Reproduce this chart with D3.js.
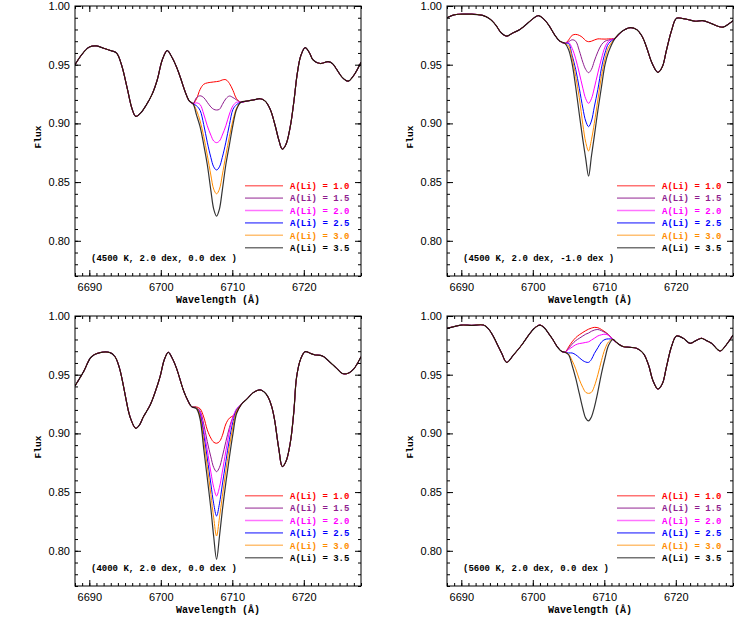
<!DOCTYPE html>
<html>
<head>
<meta charset="utf-8">
<script src="https://cdn.jsdelivr.net/npm/d3@7"></script>
<style>
body { margin: 0; background: #fff; }
</style>
</head>
<body>
<svg id="chart" width="744" height="620"></svg>
<script>
// abundances, colours and labels
var abund = ["1.0", "1.5", "2.0", "2.5", "3.0", "3.5"];
var colors = ["#ff0000", "#8e1c8e", "#ff00ff", "#0000ff", "#ff8c00", "#000000"];
var panelLabels = ["(4500 K, 2.0 dex, 0.0 dex )", "(4500 K, 2.0 dex, -1.0 dex )",
                   "(4000 K, 2.0 dex, 0.0 dex )", "(5600 K, 2.0 dex, 0.0 dex )"];
var xTicks = [6690, 6700, 6710, 6720];
var yTicks = [0.80, 0.85, 0.90, 0.95, 1.00];

// wavelengths where the Li curves split apart
var liWave = [6705.0, 6705.5, 6706.0, 6706.5, 6707.0, 6707.4, 6707.8, 6708.2, 6708.6, 6709.1, 6709.6, 6710.1, 6710.6];

// panel 1 : 4500 K, [Fe/H] 0.0
var p1Left = [[6688.0,0.950],[6689.0,0.959],[6690.0,0.965],[6691.0,0.966],[6692.0,0.964],[6693.0,0.962],[6693.8,0.960],[6694.5,0.950],[6695.3,0.930],[6696.0,0.912],[6696.5,0.906],[6697.2,0.909],[6698.0,0.916],[6698.8,0.925],[6699.5,0.937],[6700.2,0.954],[6700.9,0.962],[6701.5,0.957],[6702.2,0.948],[6702.8,0.938],[6703.4,0.927],[6704.0,0.919],[6704.5,0.9168]];
var p1Right = [[6711.2,0.918],[6712.0,0.919],[6713.0,0.920],[6713.9,0.921],[6714.6,0.919],[6715.3,0.912],[6716.0,0.898],[6716.5,0.886],[6717.0,0.878],[6717.5,0.882],[6718.1,0.897],[6718.6,0.918],[6719.1,0.943],[6719.6,0.958],[6720.2,0.9645],[6720.8,0.960],[6721.3,0.954],[6722.3,0.951],[6723.4,0.9526],[6724.0,0.951],[6724.6,0.946],[6725.4,0.939],[6726.2,0.936],[6727.0,0.941],[6728.0,0.952]];
var p1Li = [
  [0.921,0.929,0.9333,0.9345,0.935,0.9353,0.9356,0.936,0.937,0.9372,0.934,0.928,0.921],
  [0.922,0.9235,0.922,0.918,0.914,0.912,0.9114,0.912,0.916,0.921,0.9233,0.922,0.920],
  [0.9175,0.916,0.908,0.898,0.890,0.885,0.8836,0.885,0.890,0.898,0.908,0.915,0.918],
  [0.915,0.911,0.899,0.884,0.871,0.863,0.8603,0.863,0.871,0.884,0.899,0.912,0.916],
  [0.911,0.902,0.889,0.873,0.856,0.844,0.840,0.844,0.856,0.873,0.889,0.903,0.913],
  [0.907,0.897,0.882,0.865,0.843,0.827,0.821,0.827,0.843,0.865,0.882,0.899,0.912]
];

// panel 2 : 4500 K, [Fe/H] -1.0
var p2Left = [[6688.0,0.990],[6689.0,0.9925],[6690.0,0.993],[6691.5,0.993],[6693.0,0.992],[6694.0,0.989],[6694.8,0.984],[6695.6,0.977],[6696.35,0.9744],[6697.2,0.977],[6698.2,0.980],[6699.4,0.986],[6700.2,0.990],[6700.8,0.9918],[6701.5,0.989],[6702.2,0.984],[6703.1,0.975],[6703.8,0.970],[6704.5,0.9682]];
var p2Right = [[6711.5,0.9725],[6712.4,0.978],[6713.6,0.9815],[6714.5,0.980],[6715.3,0.974],[6715.9,0.965],[6716.7,0.951],[6717.5,0.9435],[6718.1,0.948],[6718.7,0.9625],[6719.4,0.979],[6720.1,0.9895],[6721.0,0.9893],[6722.0,0.988],[6722.8,0.987],[6723.8,0.9875],[6725.0,0.985],[6726.0,0.9825],[6726.6,0.982],[6728.0,0.9875]];
var p2Li = [
  [0.971,0.975,0.9758,0.975,0.973,0.9705,0.9696,0.970,0.971,0.972,0.9719,0.9718,0.972],
  [0.9695,0.9712,0.970,0.962,0.952,0.946,0.9432,0.946,0.953,0.961,0.967,0.970,0.971],
  [0.969,0.964,0.955,0.943,0.930,0.921,0.9171,0.921,0.930,0.943,0.955,0.965,0.970],
  [0.968,0.958,0.946,0.930,0.913,0.902,0.8972,0.902,0.914,0.929,0.947,0.960,0.968],
  [0.966,0.956,0.940,0.922,0.899,0.884,0.8765,0.886,0.900,0.920,0.940,0.955,0.965],
  [0.963,0.951,0.931,0.908,0.886,0.870,0.855,0.872,0.889,0.911,0.931,0.950,0.961]
];

// panel 3 : 4000 K, [Fe/H] 0.0
var p3Left = [[6688.0,0.9404],[6689.2,0.9526],[6690.3,0.9653],[6691.5,0.9688],[6692.9,0.9688],[6693.6,0.9653],[6694.2,0.956],[6694.75,0.9412],[6695.2,0.927],[6695.7,0.914],[6696.5,0.9043],[6697.0,0.907],[6697.55,0.914],[6698.5,0.924],[6699.2,0.935],[6699.9,0.9483],[6700.5,0.963],[6701.05,0.969],[6701.6,0.964],[6702.2,0.9554],[6703.15,0.937],[6703.7,0.929],[6704.3,0.9228]];
var p3Right = [[6711.3,0.925],[6712.0,0.929],[6713.0,0.935],[6713.9,0.937],[6714.5,0.935],[6715.0,0.931],[6715.5,0.923],[6715.9,0.912],[6716.5,0.887],[6717.0,0.8717],[6717.5,0.876],[6718.1,0.8916],[6718.6,0.918],[6719.0,0.9483],[6719.6,0.964],[6720.2,0.9696],[6721.0,0.968],[6721.6,0.9668],[6722.3,0.9665],[6722.8,0.9653],[6723.6,0.961],[6724.6,0.9554],[6725.4,0.951],[6726.2,0.9512],[6727.0,0.955],[6728.0,0.9653]];
var p3Li = [
  [0.9225,0.921,0.914,0.903,0.896,0.8925,0.8916,0.893,0.898,0.908,0.913,0.915,0.918],
  [0.922,0.919,0.908,0.893,0.880,0.871,0.8674,0.871,0.880,0.893,0.905,0.914,0.919],
  [0.922,0.918,0.903,0.886,0.867,0.854,0.8467,0.854,0.867,0.885,0.902,0.914,0.921],
  [0.922,0.916,0.899,0.879,0.857,0.840,0.8296,0.840,0.856,0.876,0.895,0.910,0.920],
  [0.922,0.914,0.894,0.872,0.848,0.828,0.8126,0.828,0.846,0.868,0.889,0.906,0.919],
  [0.921,0.912,0.887,0.862,0.836,0.812,0.7927,0.812,0.834,0.858,0.880,0.900,0.917]
];

// panel 4 : 5600 K, [Fe/H] 0.0
var p4Left = [[6688.0,0.9895],[6689.0,0.991],[6690.05,0.9923],[6691.45,0.992],[6693.1,0.9923],[6693.8,0.989],[6694.5,0.9824],[6695.1,0.975],[6695.65,0.9682],[6696.35,0.9605],[6697.3,0.9668],[6698.45,0.9753],[6699.6,0.9852],[6700.3,0.990],[6701.0,0.9923],[6701.6,0.990],[6702.2,0.9852],[6702.8,0.980],[6703.35,0.9744],[6704.0,0.970],[6704.5,0.9691]];
var p4Right = [[6711.2,0.980],[6711.8,0.977],[6712.6,0.974],[6713.6,0.9733],[6714.5,0.9725],[6715.45,0.9682],[6716.2,0.958],[6716.8,0.945],[6717.5,0.9378],[6718.1,0.942],[6718.7,0.9568],[6719.4,0.974],[6720.1,0.983],[6721.05,0.981],[6722.0,0.9767],[6722.8,0.979],[6723.6,0.981],[6724.3,0.979],[6725.0,0.9767],[6726.2,0.9702],[6727.0,0.975],[6728.0,0.9838]];
var p4Li = [
  [0.9735,0.978,0.9815,0.984,0.986,0.9875,0.9888,0.9897,0.9903,0.990,0.9885,0.9865,0.984],
  [0.9725,0.976,0.979,0.981,0.983,0.9845,0.9855,0.987,0.988,0.9885,0.9875,0.986,0.984],
  [0.9715,0.9735,0.9755,0.9765,0.977,0.9775,0.978,0.9795,0.981,0.983,0.984,0.9845,0.9835],
  [0.9685,0.9685,0.967,0.9645,0.962,0.9608,0.9605,0.963,0.968,0.973,0.9778,0.980,0.9805],
  [0.9675,0.962,0.955,0.946,0.939,0.935,0.9341,0.935,0.940,0.950,0.962,0.972,0.978],
  [0.967,0.958,0.947,0.934,0.921,0.913,0.9106,0.914,0.922,0.9355,0.951,0.964,0.975]
];

var panels = [
  {left: p1Left, right: p1Right, li: p1Li, ox: 75,  oy: 6},
  {left: p2Left, right: p2Right, li: p2Li, ox: 447, oy: 6},
  {left: p3Left, right: p3Right, li: p3Li, ox: 75,  oy: 316},
  {left: p4Left, right: p4Right, li: p4Li, ox: 447, oy: 316}
];

var W = 286, H = 270;
var labelFont = "'Liberation Mono', 'Courier New', monospace";
var tickFont = "'Liberation Sans', Arial, sans-serif";

var x = d3.scaleLinear().domain([6688, 6728]).range([0, W]);
var y = d3.scaleLinear().domain([0.77, 1.00]).range([H, 0]);

var line = d3.line()
  .x(function(d){ return x(d[0]); })
  .y(function(d){ return y(d[1]); })
  .curve(d3.curveCatmullRom.alpha(0.5));

var svg = d3.select('#chart');
svg.append('rect').attr('width', 744).attr('height', 620).attr('fill', '#fff');

function styleAxis(g){
  g.select('.domain').remove();
  g.selectAll('.tick line').attr('stroke', '#000').attr('stroke-width', 1);
  g.attr('font-family', tickFont).attr('font-size', 11);
  g.selectAll('text').attr('fill', '#000');
}

function drawPanel(p, i){
  var g = svg.append('g').attr('transform', 'translate(' + p.ox + ',' + p.oy + ')');

  g.append('clipPath').attr('id', 'clip' + i)
    .append('rect').attr('width', W).attr('height', H);

  // one full spectrum per abundance: base + Li region + base
  var series = p.li.map(function(vals){
    var mid = liWave.map(function(w, j){ return [w, vals[j]]; });
    return p.left.concat(mid, p.right);
  });

  g.append('g').attr('clip-path', 'url(#clip' + i + ')')
    .selectAll('path')
    .data(series)
    .enter()
    .append('path')
      .attr('d', line)
      .attr('fill', 'none')
      .attr('stroke', function(d, k){ return colors[k]; })
      .attr('stroke-width', function(d, k){ return k == 5 ? 1.2 : 1; })
      .attr('stroke-opacity', function(d, k){ return k == 5 ? 0.8 : 1; });

  // axes, ticks inward and mirrored
  g.append('g').attr('transform', 'translate(0,' + H + ')')
    .call(d3.axisBottom(x).tickValues(xTicks).tickSize(-6).tickPadding(7).tickFormat(d3.format('d')))
    .call(styleAxis);
  g.append('g').attr('transform', 'translate(0,' + H + ')')
    .call(d3.axisBottom(x).ticks(40).tickSize(-3).tickFormat(''))
    .call(styleAxis);
  g.append('g')
    .call(d3.axisTop(x).tickValues(xTicks).tickSize(-6).tickFormat(''))
    .call(styleAxis);
  g.append('g')
    .call(d3.axisTop(x).ticks(40).tickSize(-3).tickFormat(''))
    .call(styleAxis);
  g.append('g')
    .call(d3.axisLeft(y).tickValues(yTicks).tickSize(-6).tickPadding(5).tickFormat(d3.format('.2f')))
    .call(styleAxis);
  g.append('g')
    .call(d3.axisLeft(y).ticks(23).tickSize(-3).tickFormat(''))
    .call(styleAxis);
  g.append('g').attr('transform', 'translate(' + W + ',0)')
    .call(d3.axisRight(y).tickValues(yTicks).tickSize(-6).tickFormat(''))
    .call(styleAxis);
  g.append('g').attr('transform', 'translate(' + W + ',0)')
    .call(d3.axisRight(y).ticks(23).tickSize(-3).tickFormat(''))
    .call(styleAxis);

  g.append('rect')
    .attr('width', W).attr('height', H)
    .attr('fill', 'none').attr('stroke', '#000').attr('stroke-width', 1);

  // axis titles
  g.append('text')
    .attr('x', W / 2).attr('y', H + 27)
    .attr('text-anchor', 'middle')
    .attr('font-family', labelFont).attr('font-weight', 'bold').attr('font-size', 10)
    .text('Wavelength (\u00C5)');
  g.append('text')
    .attr('transform', 'translate(-34,' + (H / 2 - 4) + ') rotate(-90)')
    .attr('text-anchor', 'middle')
    .attr('font-family', labelFont).attr('font-weight', 'bold').attr('font-size', 9.5)
    .text('Flux');

  // model label
  g.append('text')
    .attr('x', 16).attr('y', 255)
    .attr('font-family', labelFont).attr('font-weight', 'bold').attr('font-size', 9)
    .attr('xml:space', 'preserve')
    .text(panelLabels[i]);

  // legend
  var leg = g.append('g').selectAll('g')
    .data(abund)
    .enter()
    .append('g')
      .attr('transform', function(d, k){ return 'translate(0,' + (179.7 + k * 12.4) + ')'; });
  leg.append('line')
    .attr('x1', 170).attr('x2', 208)
    .attr('stroke', function(d, k){ return colors[k]; })
    .attr('stroke-width', 1.6)
    .attr('stroke-opacity', 0.55);
  leg.append('text')
    .attr('x', 215).attr('y', 3.2)
    .attr('font-family', labelFont).attr('font-weight', 'bold').attr('font-size', 9)
    .attr('fill', function(d, k){ return colors[k]; })
    .text(function(d){ return 'A(Li) = ' + d; });
}

panels.forEach(drawPanel);
</script>
</body>
</html>
